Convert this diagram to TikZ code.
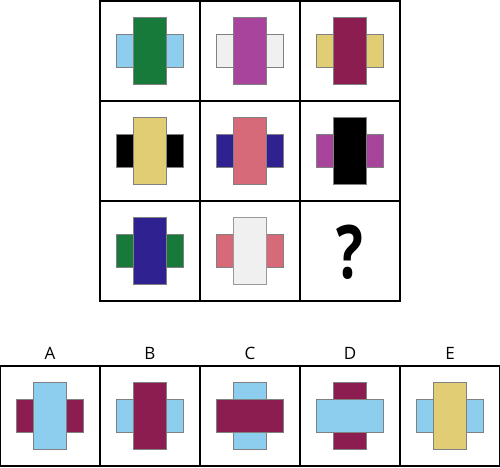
\documentclass[tikz,border=0pt]{standalone}
\usepackage{fontspec}
\setmainfont{Open Sans}
\definecolor{lblue}{HTML}{8DCDEE}
\definecolor{dgreen}{HTML}{177A3B}
\definecolor{magen}{HTML}{A8449B}
\definecolor{wgray}{HTML}{F0F0F0}
\definecolor{maroon}{HTML}{8C1D50}
\definecolor{ylw}{HTML}{E1CD73}
\definecolor{pnk}{HTML}{D76A78}
\definecolor{navy}{HTML}{2F2290}
\begin{document}
\begin{tikzpicture}[x=1pt,y=-1pt,
  cell/.style={draw=black,line width=1.5pt,minimum size=100pt,inner sep=0pt,outer sep=0pt},
  hbar/.style={draw=black!50,line width=0.5pt,minimum width=67pt,minimum height=33pt,inner sep=0pt},
  vbar/.style={draw=black!50,line width=0.5pt,minimum width=33pt,minimum height=67pt,inner sep=0pt},
  lbl/.style={font=\fontsize{17}{20}\selectfont,inner sep=0pt}]
\useasboundingbox (0,0) rectangle (500,467);
% grid cells
\foreach \r in {1,2,3}{
  \foreach \c in {1,2,3}{
    \node[cell] (g\r\c) at ({50+100*\c},{-49+100*\r}) {};
  }
}
% answer cells
\foreach \n/\x in {A/50,B/150,C/250,D/350,E/450}{
  \node[cell] (a\n) at (\x,416) {};
  \node[lbl] (l\n) at (\x,353) {\n};
}
% row 1
\node[hbar,fill=lblue] (h11) at (g11) {};
\node[vbar,fill=dgreen] (v11) at (g11) {};
\node[hbar,fill=wgray] (h12) at (g12) {};
\node[vbar,fill=magen] (v12) at (g12) {};
\node[hbar,fill=ylw] (h13) at (g13) {};
\node[vbar,fill=maroon] (v13) at (g13) {};
% row 2
\node[hbar,fill=black] (h21) at (g21) {};
\node[vbar,fill=ylw] (v21) at (g21) {};
\node[hbar,fill=navy] (h22) at (g22) {};
\node[vbar,fill=pnk] (v22) at (g22) {};
\node[hbar,fill=magen] (h23) at (g23) {};
\node[vbar,fill=black] (v23) at (g23) {};
% row 3
\node[hbar,fill=dgreen] (h31) at (g31) {};
\node[vbar,fill=navy] (v31) at (g31) {};
\node[hbar,fill=pnk] (h32) at (g32) {};
\node[vbar,fill=wgray,draw=black!40] (v32) at (g32) {};
\node[font=\bfseries\fontsize{66}{70}\selectfont,inner sep=0pt,xscale=0.85,yscale=1.12] (q) at (350,252) {?};
% answers
\node[hbar,fill=maroon] (hA) at (aA) {};
\node[vbar,fill=lblue] (vA) at (aA) {};
\node[hbar,fill=lblue] (hB) at (aB) {};
\node[vbar,fill=maroon] (vB) at (aB) {};
\node[vbar,fill=lblue] (vC) at (aC) {};
\node[hbar,fill=maroon] (hC) at (aC) {};
\node[vbar,fill=maroon] (vD) at (aD) {};
\node[hbar,fill=lblue] (hD) at (aD) {};
\node[hbar,fill=lblue] (hE) at (aE) {};
\node[vbar,fill=ylw] (vE) at (aE) {};
\end{tikzpicture}
\end{document}
